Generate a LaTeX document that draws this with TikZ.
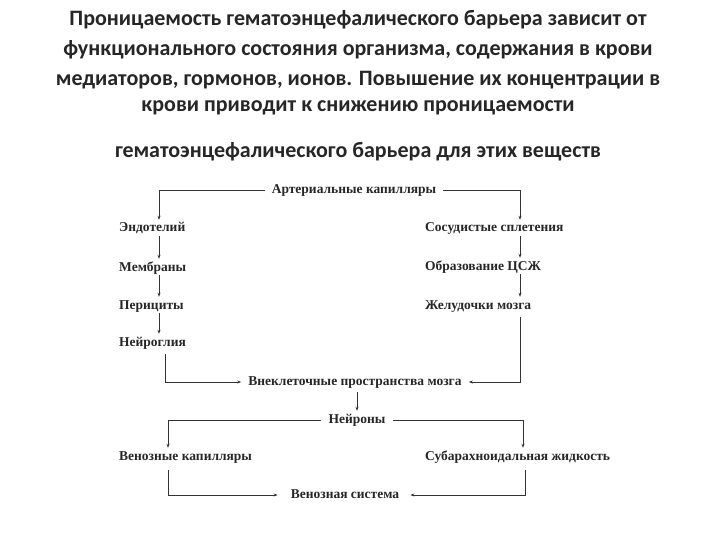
\documentclass[tikz,border=0pt]{standalone}
\usepackage{fontspec}
\usetikzlibrary{arrows.meta}
\setmainfont{Liberation Serif}
\newfontfamily\titlefont{Carlito}
\begin{document}
\begin{tikzpicture}[x=1pt,y=-1pt,
  lab/.style={font=\bfseries\fontsize{13.5}{15}\selectfont,inner sep=1pt,text=black!85,text height=9pt,text depth=3pt},
  ln/.style={draw=black!80,line width=1pt},
  ar/.style={ln,-{Stealth[length=4pt,width=3pt]}},
  ttl/.style={font=\titlefont\bfseries\fontsize{22}{24}\selectfont,text=black!85}]
\useasboundingbox (0,0) rectangle (720,540);
\node[ttl] (t1) at (358,20) {Проницаемость гематоэнцефалического барьера зависит от};
\node[ttl] (t2) at (358,50) {функционального состояния организма, содержания в крови};
\node[ttl] (t3) at (358,80) {медиаторов, гормонов, ионов. Повышение их концентрации в};
\node[ttl] (t4) at (358,108) {крови приводит к снижению проницаемости};
\node[ttl] (t5) at (358,152) {гематоэнцефалического барьера для этих веществ};

\node[lab] (art) at (354,191) {Артериальные капилляры};
\node[lab,anchor=west] (e1) at (118,229) {Эндотелий};
\node[lab,anchor=west] (e2) at (118,268) {Мембраны};
\node[lab,anchor=west] (e3) at (118,306) {Перициты};
\node[lab,anchor=west] (e4) at (118,343) {Нейроглия};
\node[lab,anchor=west] (s1) at (424,229) {Сосудистые сплетения};
\node[lab,anchor=west] (s2) at (424,267) {Образование ЦСЖ};
\node[lab,anchor=west] (s3) at (424,306) {Желудочки мозга};
\node[lab] (vn) at (355,382) {Внеклеточные пространства мозга};
\node[lab] (nr) at (357,420) {Нейроны};
\node[lab,anchor=west] (vk) at (118,457) {Венозные капилляры};
\node[lab,anchor=west] (sub) at (424,457) {Субарахноидальная жидкость};
\node[lab] (vs) at (345,495) {Венозная система};

\draw[ar] (art.west) ++(-6,0) -| ([yshift=2pt]e1.north -| 159,0);
\draw[ar] (art.east) ++(6,0) -| ([yshift=2pt]s1.north -| 520,0);
\foreach \a/\b in {e1/e2,e2/e3,e3/e4}
  \draw[ar] (\a.south -| 159,0) -- ([yshift=2pt]\b.north -| 159,0);
\foreach \a/\b in {s1/s2,s2/s3}
  \draw[ar] (\a.south -| 520,0) -- ([yshift=2pt]\b.north -| 520,0);
\draw[ar] (e4.south -| 165,0) ++(0,4) |- ([xshift=-6pt]vn.west);
\draw[ar] (s3.south -| 520,0) ++(0,4) |- ([xshift=6pt]vn.east);
\draw[ar] (vn.south -| 357,0) ++(0,3) -- ([yshift=2pt]nr.north);
\draw[ar] ([xshift=-6pt]nr.west) -| ([yshift=2pt]vk.north -| 168,0);
\draw[ar] ([xshift=6pt]nr.east) -| ([yshift=2pt]sub.north -| 523,0);
\draw[ar] (vk.south -| 168,0) ++(0,6) |- ([xshift=-12pt]vs.west);
\draw[ar] (sub.south -| 525,0) ++(0,6) |- ([xshift=10pt]vs.east);
\end{tikzpicture}
\end{document}
